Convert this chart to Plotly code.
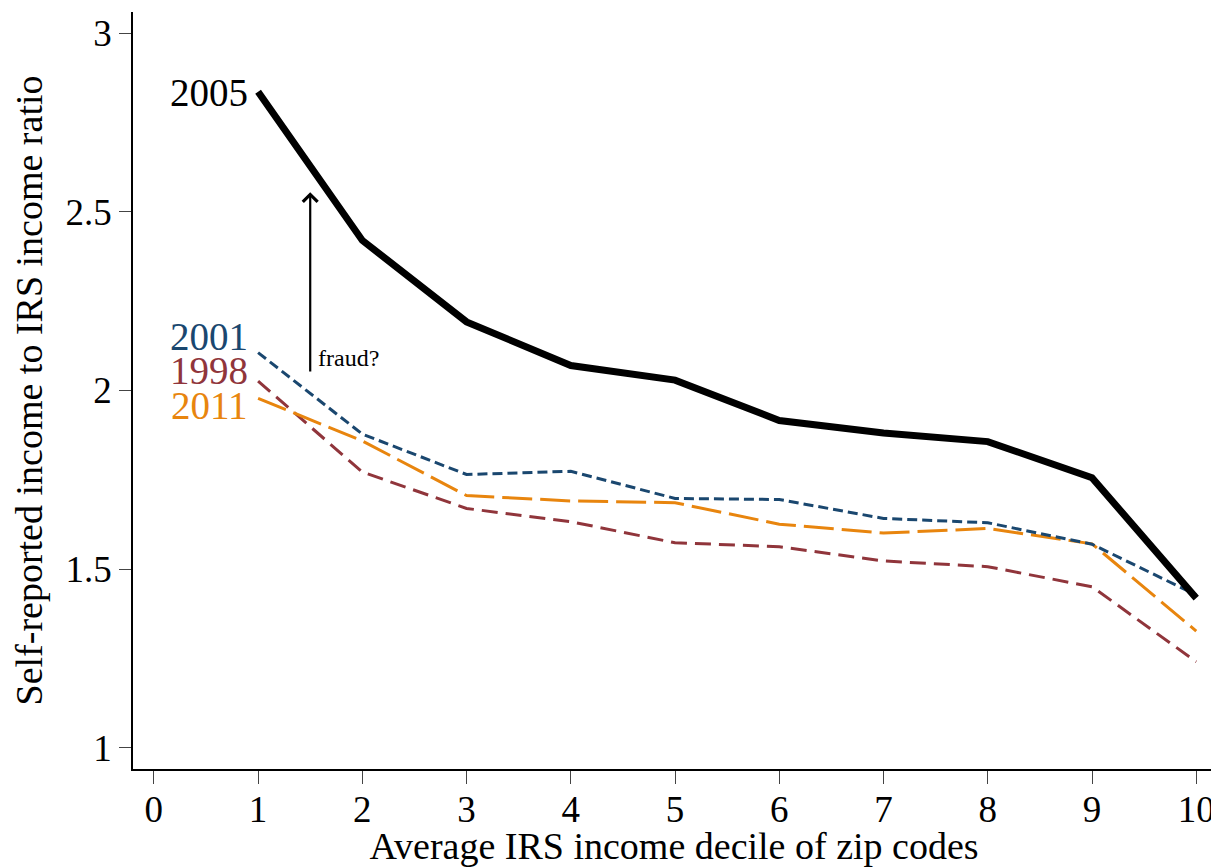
import plotly.graph_objects as go

deciles = [1, 2, 3, 4, 5, 6, 7, 8, 9, 10]
y2005 = [2.836, 2.420, 2.192, 2.070, 2.029, 1.916, 1.881, 1.857, 1.756, 1.419]
y2001 = [2.106, 1.878, 1.765, 1.774, 1.698, 1.695, 1.642, 1.630, 1.570, 1.428]
y1998 = [2.026, 1.772, 1.670, 1.633, 1.574, 1.563, 1.523, 1.507, 1.451, 1.241]
y2011 = [1.978, 1.859, 1.706, 1.691, 1.686, 1.626, 1.601, 1.614, 1.571, 1.327]

x_ticks = [0, 1, 2, 3, 4, 5, 6, 7, 8, 9, 10]
y_ticks = [1, 1.5, 2, 2.5, 3]
y_tick_labels = ["1", "1.5", "2", "2.5", "3"]

series = [
    ("1998", y1998, "#90353b", 3, "16px,8px"),
    ("2011", y2011, "#e8850e", 3, "30px,8px"),
    ("2001", y2001, "#1a476f", 3, "10px,5px"),
    ("2005", y2005, "#000000", 7, "solid"),
]

label_pos = {"2005": 2.835, "2001": 2.150, "1998": 2.055, "2011": 1.959}

FONT = "Liberation Serif, Times New Roman, serif"

fig = go.Figure()
for name, ys, color, w, dash in series:
    fig.add_trace(go.Scatter(x=deciles, y=ys, mode="lines", name=name,
                             line=dict(color=color, width=w, dash=dash),
                             showlegend=False))
    fig.add_annotation(x=0.92, y=label_pos[name], text=name, showarrow=False,
                       xanchor="right", yanchor="middle",
                       font=dict(family=FONT, size=39, color=color))

# arrow "fraud?"
fig.add_annotation(x=1.5, y=2.555, ax=1.5, ay=2.049, xref="x", yref="y",
                   axref="x", ayref="y", text="", showarrow=True,
                   arrowhead=4, arrowsize=1.3, arrowwidth=2.2, arrowcolor="black")
fig.add_annotation(x=1.56, y=2.09, text="fraud?", showarrow=False,
                   xanchor="left", yanchor="middle",
                   font=dict(family=FONT, size=24, color="black"))

# the page shows the figure with an 8px body offset, so size it to fit the window
fig.update_layout(
    width=1211, height=859,
    margin=dict(l=125, r=4, t=4, b=98),
    paper_bgcolor="white", plot_bgcolor="white",
    font=dict(family=FONT, size=36, color="black"),
    xaxis=dict(range=[-0.2, 10.18], tickvals=x_ticks, ticks="outside",
               ticklen=13, tickwidth=1.2, showline=True, linecolor="black",
               linewidth=1.5, showgrid=False, zeroline=False, automargin=False,
               tickfont=dict(size=37), ticklabelstandoff=-6,
               title=dict(text="Average IRS income decile of zip codes",
                          standoff=0, font=dict(size=38))),
    yaxis=dict(range=[0.941, 3.059], tickvals=y_ticks, ticktext=y_tick_labels,
               ticks="outside", ticklen=12, tickwidth=1.2, showline=True,
               linecolor="black", linewidth=1.5, showgrid=False, zeroline=False,
               automargin=False, tickfont=dict(size=37),
               title=dict(text="Self-reported income to IRS income ratio",
                          standoff=12, font=dict(size=38))),
)

fig.write_html("out.html")
